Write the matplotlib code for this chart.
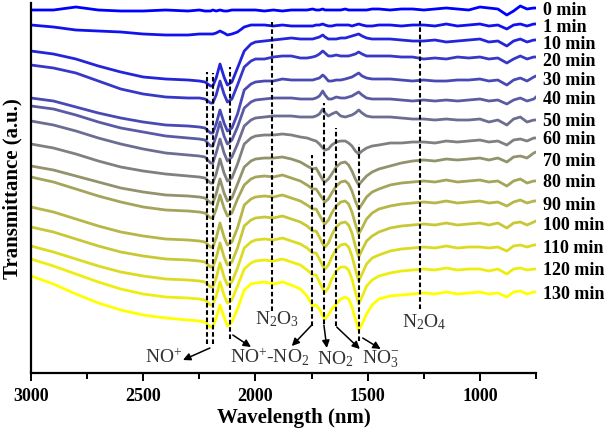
import numpy as np
import matplotlib
matplotlib.use("Agg")
import matplotlib.pyplot as plt
from matplotlib.transforms import blended_transform_factory

plt.rcParams['font.family'] = ['Liberation Serif', 'DejaVu Serif']
plt.rcParams['mathtext.fontset'] = 'custom'
plt.rcParams['mathtext.rm'] = 'Liberation Serif'
plt.rcParams['mathtext.it'] = 'Liberation Serif'
plt.rcParams['mathtext.bf'] = 'Liberation Serif:bold'

# shared x grid (nm, as labelled on the original axis)
wavelength = [3000, 2900, 2800, 2700, 2600, 2500, 2400, 2300,
              2250, 2225, 2200, 2190, 2175, 2158, 2140, 2125, 2105, 2080,
              2050, 2020, 2000, 1960, 1920, 1880, 1840, 1800,
              1770, 1745, 1730, 1715, 1700, 1690, 1675, 1660, 1640, 1620,
              1600, 1585, 1570, 1555, 1540, 1525, 1505, 1480, 1450,
              1400, 1350, 1300, 1250, 1200, 1150, 1100, 1050, 1000,
              960, 920, 880, 850, 820, 790, 760, 750]

times = ["0 min", "1 min", "10 min", "20 min", "30 min", "40 min", "50 min",
         "60 min", "70 min", "80 min", "90 min", "100 min", "110 min",
         "120 min", "130 min"]

# stacked transmittance traces (a.u., offsets included)
t_0 = [363, 363, 366, 363, 362, 362, 363, 362,
       363, 362, 362, 363, 362, 363, 362, 362, 363, 363,
       363, 363, 363, 362, 363, 362, 363, 363,
       363, 364, 363, 363, 364, 363, 363, 363, 363, 363,
       364, 363, 363, 363, 363, 363, 363, 364, 364,
       363, 364, 364, 363, 364, 365, 364, 363, 366,
       365, 364, 358, 362, 367, 364, 365, 365]
t_1 = [348, 346, 343, 342, 341, 339, 338, 338,
       339, 339, 339, 339, 340, 342, 340, 338, 339, 341,
       346, 348, 348, 348, 347, 348, 347, 347,
       347, 347, 348, 348, 349, 348, 347, 347, 348, 348,
       348, 348, 347, 348, 349, 348, 347, 347, 348,
       348, 347, 348, 348, 347, 349, 347, 348, 349,
       347, 348, 344, 348, 349, 347, 349, 349]
t_10 = [322, 319, 314, 307, 301, 296, 294, 293,
        292, 291, 287, 287, 295, 309, 296, 288, 291, 305,
        322, 329, 331, 332, 333, 334, 335, 334,
        334, 334, 335, 336, 338, 336, 334, 334, 334, 335,
        335, 336, 337, 338, 339, 337, 335, 334, 334,
        334, 333, 332, 332, 333, 331, 332, 333, 334,
        331, 332, 327, 332, 334, 331, 333, 333]
t_20 = [308, 305, 300, 292, 284, 279, 276, 275,
        275, 274, 270, 270, 278, 292, 279, 271, 274, 288,
        306, 312, 314, 314, 316, 317, 317, 315,
        315, 316, 317, 319, 322, 320, 317, 317, 318, 317,
        317, 317, 318, 319, 321, 319, 317, 317, 317,
        317, 316, 316, 314, 315, 314, 316, 315, 316,
        314, 315, 310, 314, 317, 314, 316, 316]
t_30 = [275, 272, 266, 260, 255, 251, 248, 247,
        246, 245, 240, 240, 249, 263, 250, 242, 245, 259,
        283, 289, 291, 292, 292, 294, 293, 293,
        293, 293, 294, 295, 298, 296, 292, 292, 293, 293,
        294, 295, 296, 298, 300, 297, 295, 294, 294,
        294, 293, 292, 293, 292, 292, 293, 293, 294,
        292, 293, 288, 293, 295, 292, 296, 297]
t_40 = [267, 264, 258, 251, 245, 241, 237, 235,
        234, 233, 227, 227, 237, 251, 237, 229, 233, 246,
        265, 271, 273, 274, 275, 275, 275, 274,
        274, 274, 275, 277, 282, 278, 274, 274, 276, 275,
        275, 276, 277, 279, 281, 278, 275, 274, 274,
        274, 273, 272, 273, 272, 273, 272, 273, 274,
        272, 273, 269, 273, 275, 272, 274, 276]
t_50 = [252, 248, 242, 235, 229, 224, 220, 218,
        217, 216, 210, 210, 220, 234, 220, 212, 216, 229,
        247, 253, 255, 256, 257, 257, 257, 256,
        256, 256, 257, 259, 264, 260, 257, 259, 261, 257,
        256, 257, 258, 260, 263, 260, 257, 256, 256,
        256, 255, 254, 254, 253, 254, 253, 253, 254,
        251, 253, 248, 254, 256, 251, 253, 253]
t_60 = [229, 225, 219, 212, 206, 202, 199, 197,
        196, 195, 190, 190, 199, 214, 200, 192, 195, 209,
        229, 235, 237, 238, 238, 239, 238, 236,
        235, 233, 232, 229, 225, 223, 224, 228, 231, 232,
        232, 230, 227, 222, 219, 222, 225, 227, 228,
        230, 230, 231, 231, 230, 232, 231, 232, 233,
        231, 232, 228, 233, 234, 232, 235, 235]
t_70 = [207, 203, 197, 191, 185, 181, 178, 177,
        176, 175, 170, 170, 179, 194, 180, 172, 175, 189,
        206, 212, 214, 215, 215, 216, 214, 211,
        207, 204, 205, 199, 193, 191, 194, 199, 206, 210,
        211, 208, 202, 194, 188, 192, 197, 201, 204,
        207, 210, 212, 213, 212, 214, 213, 214, 215,
        213, 215, 211, 216, 217, 215, 220, 221]
t_80 = [196, 191, 184, 177, 171, 166, 163, 162,
        161, 160, 155, 155, 164, 178, 165, 157, 160, 174,
        188, 194, 196, 197, 196, 198, 195, 192,
        188, 184, 184, 179, 174, 171, 174, 180, 187, 191,
        192, 189, 182, 172, 164, 169, 176, 181, 184,
        188, 190, 191, 192, 191, 193, 191, 192, 193,
        191, 192, 187, 192, 194, 190, 192, 192]
t_90 = [166, 161, 154, 147, 141, 137, 134, 133,
        132, 131, 126, 126, 135, 150, 136, 128, 131, 145,
        168, 174, 176, 177, 176, 178, 175, 172,
        168, 164, 164, 158, 152, 149, 153, 160, 167, 171,
        172, 169, 161, 149, 139, 145, 154, 160, 164,
        167, 169, 170, 171, 170, 172, 170, 171, 172,
        170, 171, 167, 171, 173, 170, 172, 172]
t_100 = [146, 141, 134, 127, 121, 117, 114, 113,
         112, 111, 106, 106, 115, 130, 116, 108, 111, 125,
         147, 153, 155, 156, 155, 157, 154, 151,
         147, 142, 142, 136, 129, 126, 130, 138, 146, 150,
         151, 148, 140, 127, 116, 123, 132, 137, 141,
         145, 147, 148, 149, 148, 150, 148, 149, 150,
         148, 150, 145, 150, 151, 148, 151, 152]
t_110 = [127, 121, 114, 107, 101, 97, 94, 93,
         92, 91, 86, 86, 95, 110, 96, 88, 91, 105,
         125, 131, 133, 134, 133, 135, 132, 129,
         125, 120, 120, 114, 107, 104, 108, 116, 124, 128,
         129, 126, 117, 104, 92, 99, 109, 115, 118,
         122, 124, 125, 126, 125, 127, 125, 126, 126,
         125, 126, 122, 127, 128, 126, 128, 128]
t_120 = [114, 107, 99, 91, 84, 79, 76, 75,
         74, 73, 68, 68, 77, 91, 78, 70, 73, 87,
         104, 110, 112, 113, 112, 114, 111, 108,
         103, 98, 98, 91, 84, 81, 85, 94, 102, 106,
         106, 103, 94, 81, 69, 76, 87, 93, 97,
         100, 102, 103, 104, 103, 105, 103, 104, 104,
         102, 104, 99, 104, 105, 103, 104, 104]
t_130 = [97, 89, 79, 70, 63, 58, 55, 53,
         52, 51, 46, 46, 55, 68, 56, 47, 51, 64,
         83, 89, 90, 91, 89, 91, 88, 84,
         77, 67, 68, 64, 57, 54, 58, 64, 69, 74,
         76, 74, 66, 54, 43, 49, 59, 68, 74,
         77, 78, 79, 80, 79, 81, 79, 80, 81,
         79, 80, 76, 81, 82, 79, 81, 81]

spectra = [t_0, t_1, t_10, t_20, t_30, t_40, t_50, t_60, t_70, t_80,
           t_90, t_100, t_110, t_120, t_130]
label_y = [364, 347, 330, 313, 294, 275, 253, 235, 213, 192, 169, 149,
           126, 104, 80]

# band markers: position, lower end, upper end
band_x = [2216, 2190, 2114, 1927, 1748, 1694, 1642, 1540, 1265]
band_lo = [29, 29, 34, 62, 47, 49, 47, 32, 64]
band_hi = [301, 300, 306, 351, 218, 270, 245, 229, 352]

# species labels and arrows
species = [r"NO$^{+}$", r"NO$^{+}$-NO$_{2}$", r"N$_{2}$O$_{3}$", r"NO$_{2}$",
           r"NO$_{3}^{-}$", r"N$_{2}$O$_{4}$"]
species_xy = [(2410, 16), (1936, 17), (1905, 55), (1646, 15), (1442, 15),
              (1246, 52)]
arrows = [((2203, 25), (2323, 13)),
          ((2101, 38), (2020, 26)),
          ((1749, 48), (1838, 27)),
          ((1695, 48), (1682, 25)),
          ((1638, 46), (1535, 24)),
          ((1522, 35), (1442, 24))]

fig = plt.figure(figsize=(6.13, 4.35), dpi=100)
ax = fig.add_axes([0.0506, 0.1402, 0.8238, 0.8506])

n = len(spectra)
for i, (trace, name) in enumerate(zip(spectra, times)):
    t = i / (n - 1)
    ax.plot(wavelength, trace, color=(t, t, 1 - t), lw=2.0, zorder=2)

for x, lo, hi in zip(band_x, band_lo, band_hi):
    ax.plot([x, x], [lo, hi], color='black', lw=1.5, ls=(0, (2.2, 1.3)),
            zorder=3)

for txt, (x, y) in zip(species, species_xy):
    ax.text(x, y, txt, fontsize=14, color='#333333', ha='center',
            va='center', zorder=4)

for start, end in arrows:
    ax.annotate('', xy=end, xytext=start,
                arrowprops=dict(arrowstyle='-|>', color='black', lw=1.1,
                                mutation_scale=11, shrinkA=0, shrinkB=0))

trans = blended_transform_factory(ax.transAxes, ax.transData)
for name, y in zip(times, label_y):
    ax.text(1.013, y, name, transform=trans, fontsize=13, fontweight='bold',
            va='center', ha='left', clip_on=False)

ax.set_xlim(3000, 750)
ax.set_ylim(0, 370)
ax.set_xticks([3000, 2500, 2000, 1500, 1000])
ax.set_xticks([2750, 2250, 1750, 1250, 750], minor=True)
ax.set_yticks([])
ax.tick_params(axis='x', which='major', direction='out', length=6, width=1.4,
               pad=4, labelsize=13)
ax.tick_params(axis='x', which='minor', direction='out', length=4, width=1.4)
for lbl in ax.get_xticklabels():
    lbl.set_fontweight('bold')

for side in ['top', 'right']:
    ax.spines[side].set_visible(False)
for side in ['left', 'bottom']:
    ax.spines[side].set_linewidth(1.6)

ax.set_xlabel('Wavelength (nm)', fontsize=15, fontweight='bold')
ax.xaxis.set_label_coords(0.521, -0.118)
ax.xaxis.label.set_va('center')
ax.set_ylabel('Transmittance (a.u.)', fontsize=15, fontweight='bold')
ax.yaxis.set_label_coords(-0.036, 0.5)
ax.yaxis.label.set_va('center')

fig.savefig('out.png', dpi=100)
